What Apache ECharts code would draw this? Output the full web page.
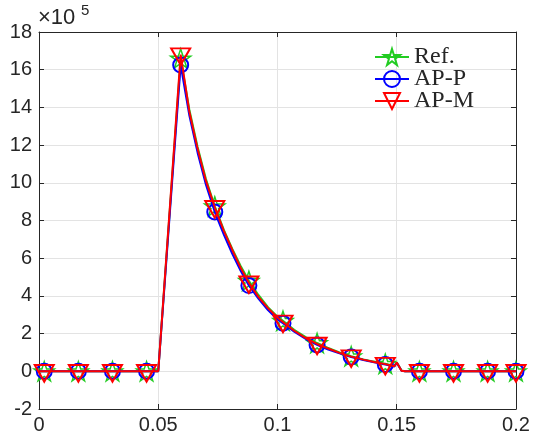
<!DOCTYPE html>
<html><head><meta charset="utf-8">
<script src="https://cdn.jsdelivr.net/npm/echarts@6/dist/echarts.min.js"></script>
<style>html,body{margin:0;padding:0;background:#fff}#chart{width:533px;height:441px}</style>
</head><body><div id="chart"></div>
<script>
// ---- data (values in units of 1e5) ----
const xCurve = [0, 0.0022, 0.0165, 0.0308, 0.0451, 0.0500, 0.0594, 0.0630, 0.0665, 0.0700, 0.0737,
  0.0775, 0.0810, 0.0845, 0.0880, 0.0920, 0.0960, 0.1000, 0.1023, 0.1070, 0.1120, 0.1166,
  0.1210, 0.1260, 0.1309, 0.1360, 0.1410, 0.1452, 0.1490, 0.1500, 0.1506, 0.1520, 0.1535,
  0.1595, 0.1738, 0.1881, 0.2000];
const refValues = [0, 0, 0, 0, 0, 0, 16.6, 13.9, 11.9, 10.2, 8.75,
  7.5, 6.5, 5.6, 4.8, 4.05, 3.4, 2.9, 2.68, 2.2, 1.8, 1.5,
  1.25, 1.0, 0.8, 0.63, 0.5, 0.4, 0.28, 0.48, 0.42, 0.04, 0,
  0, 0, 0, 0];
const appValues = [0, 0, 0, 0, 0, 0, 16.25, 13.6, 11.6, 9.9, 8.45,
  7.25, 6.25, 5.35, 4.55, 3.85, 3.25, 2.75, 2.55, 2.1, 1.7, 1.4,
  1.17, 0.95, 0.76, 0.6, 0.47, 0.36, 0.26, 0.45, 0.40, 0.03, 0,
  0, 0, 0, 0];
const apmValues = [0, 0, 0, 0, 0, 0, 16.8, 13.8, 11.8, 10.1, 8.7,
  7.45, 6.45, 5.5, 4.7, 3.95, 3.35, 2.85, 2.62, 2.15, 1.75, 1.45,
  1.22, 0.98, 0.78, 0.62, 0.48, 0.38, 0.27, 0.47, 0.42, 0.03, 0,
  0, 0, 0, 0];
const markerX = [0.0022, 0.0165, 0.0308, 0.0451, 0.0594, 0.0737, 0.0880, 0.1023, 0.1166,
  0.1309, 0.1452, 0.1595, 0.1738, 0.1881, 0.2000];
const xTickLabels = ['0', '0.05', '0.1', '0.15', '0.2'];
const yTickLabels = ['-2', '0', '2', '4', '6', '8', '10', '12', '14', '16', '18'];
const seriesNames = ['Ref.', 'AP-P', 'AP-M'];

const starPath = 'path://M0,-10 L2.245,-3.09 L9.511,-3.09 L3.633,1.18 L5.878,8.09 L0,3.82 L-5.878,8.09 L-3.633,1.18 L-9.511,-3.09 L-2.245,-3.09 Z';
const triPath = 'path://M-1,-0.577 L1,-0.577 L0,1.155 Z';

function buildData(vals) {
  return xCurve.map((x, i) => {
    const isMarker = markerX.some(m => Math.abs(m - x) < 1e-9);
    return isMarker ? [x, vals[i]] : { value: [x, vals[i]], symbol: 'none' };
  });
}

const axisColor = '#262626';
const tickFont = { fontFamily: 'Liberation Sans', fontSize: 20, color: axisColor };
const tickStyle = { inside: true, length: 5, lineStyle: { color: axisColor, width: 1 } };
const gridLine = { show: true, lineStyle: { color: '#e3e3e3', width: 1 } };

const chart = echarts.init(document.getElementById('chart'), null, { renderer: 'canvas' });
chart.setOption({
  animation: false,
  backgroundColor: '#fff',
  grid: { left: 39, right: 17, top: 32, bottom: 32 },
  graphic: [
    { type: 'text', left: 38, top: 7, style: { text: '×10', fontSize: 22, fontFamily: 'Liberation Sans', fill: axisColor } },
    { type: 'text', left: 81, top: 3, style: { text: '5', fontSize: 15, fontFamily: 'Liberation Sans', fill: axisColor } }
  ],
  legend: {
    orient: 'vertical', left: 374, top: 45, padding: 0,
    itemWidth: 34, itemHeight: 20, itemGap: -2,
    selectedMode: false,
    textStyle: { fontFamily: 'Liberation Serif', fontSize: 24, lineHeight: 20, color: axisColor },
    data: seriesNames
  },
  xAxis: [
    { type: 'value', min: 0, max: 0.2, interval: 0.05, position: 'bottom',
      axisLine: { show: true, onZero: false, lineStyle: { color: axisColor } },
      axisTick: tickStyle,
      axisLabel: { ...tickFont, margin: 6, formatter: v => xTickLabels[Math.round(v / 0.05)] },
      splitLine: gridLine },
    { type: 'value', min: 0, max: 0.2, interval: 0.05, position: 'top',
      axisLine: { show: true, onZero: false, lineStyle: { color: axisColor } },
      axisTick: tickStyle, axisLabel: { show: false }, splitLine: { show: false } }
  ],
  yAxis: [
    { type: 'value', min: -2, max: 18, interval: 2, position: 'left',
      axisLine: { show: true, onZero: false, lineStyle: { color: axisColor } },
      axisTick: tickStyle,
      axisLabel: { ...tickFont, margin: 7, formatter: v => yTickLabels[Math.round((v + 2) / 2)] },
      splitLine: gridLine },
    { type: 'value', min: -2, max: 18, interval: 2, position: 'right',
      axisLine: { show: true, onZero: false, lineStyle: { color: axisColor } },
      axisTick: tickStyle, axisLabel: { show: false }, splitLine: { show: false } }
  ],
  series: [
    { name: seriesNames[0], type: 'line', xAxisIndex: 0, yAxisIndex: 0, clip: false,
      data: buildData(refValues), showSymbol: true, symbol: starPath, symbolSize: 20, symbolKeepAspect: true,
      lineStyle: { color: '#22cc22', width: 2 },
      itemStyle: { color: 'rgba(0,0,0,0)', borderColor: '#22cc22', borderWidth: 1.5 },
      emphasis: { disabled: true }, z: 2 },
    { name: seriesNames[1], type: 'line', xAxisIndex: 0, yAxisIndex: 0, clip: false,
      data: buildData(appValues), showSymbol: true, symbol: 'circle', symbolSize: 15,
      lineStyle: { color: '#0000ff', width: 2 },
      itemStyle: { color: 'rgba(0,0,0,0)', borderColor: '#0000ff', borderWidth: 2 },
      emphasis: { disabled: true }, z: 3 },
    { name: seriesNames[2], type: 'line', xAxisIndex: 0, yAxisIndex: 0, clip: false,
      data: buildData(apmValues), showSymbol: true, symbol: triPath, symbolSize: [19, 16.5], symbolOffset: [0, 2],
      lineStyle: { color: '#ff0000', width: 2 },
      itemStyle: { color: 'rgba(0,0,0,0)', borderColor: '#ff0000', borderWidth: 2 },
      emphasis: { disabled: true }, z: 4 }
  ]
});
</script>
</body></html>
